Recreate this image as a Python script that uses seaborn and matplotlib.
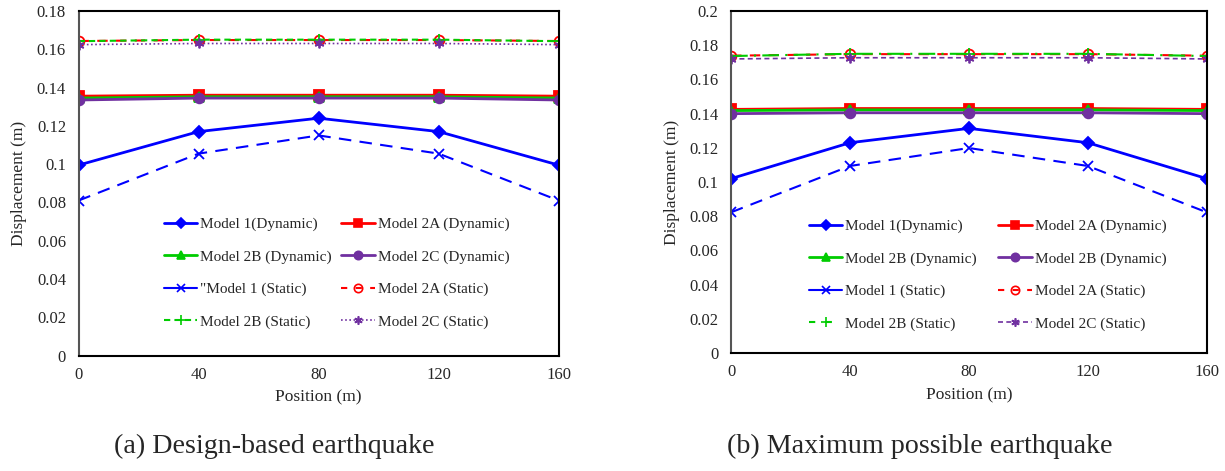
import matplotlib
matplotlib.use("Agg")
import matplotlib.pyplot as plt
import seaborn as sns
from matplotlib.lines import Line2D

positions = [0, 40, 80, 120, 160]

# (a) design-based earthquake
dbe_m1_dyn = [0.0995, 0.117, 0.124, 0.117, 0.0995]
dbe_m2a_dyn = [0.1355, 0.136, 0.136, 0.136, 0.1355]
dbe_m2b_dyn = [0.1345, 0.1352, 0.1352, 0.1352, 0.1345]
dbe_m2c_dyn = [0.1335, 0.1345, 0.1345, 0.1345, 0.1335]
dbe_m1_sta = [0.081, 0.1055, 0.115, 0.1055, 0.081]
dbe_m2a_sta = [0.1643, 0.1648, 0.1648, 0.1648, 0.1643]
dbe_m2b_sta = [0.1642, 0.1650, 0.1650, 0.1650, 0.1642]
dbe_m2c_sta = [0.1624, 0.1630, 0.1630, 0.1630, 0.1624]

# (b) maximum possible earthquake
mpe_m1_dyn = [0.102, 0.123, 0.1314, 0.123, 0.102]
mpe_m2a_dyn = [0.1425, 0.1430, 0.1430, 0.1430, 0.1425]
mpe_m2b_dyn = [0.1418, 0.1422, 0.1422, 0.1422, 0.1418]
mpe_m2c_dyn = [0.1400, 0.1405, 0.1405, 0.1405, 0.1400]
mpe_m1_sta = [0.0823, 0.1094, 0.1199, 0.1094, 0.0823]
mpe_m2a_sta = [0.1739, 0.1748, 0.1748, 0.1748, 0.1739]
mpe_m2b_sta = [0.1737, 0.1750, 0.1750, 0.1750, 0.1737]
mpe_m2c_sta = [0.1720, 0.1727, 0.1727, 0.1727, 0.1720]

labels_a = ["Model 1(Dynamic)", "Model 2A (Dynamic)", "Model 2B (Dynamic)", "Model 2C (Dynamic)",
            "\"Model 1 (Static)", "Model 2A (Static)", "Model 2B (Static)", "Model 2C (Static)"]
labels_b = ["Model 1(Dynamic)", "Model 2A (Dynamic)", "Model 2B (Dynamic)", "Model 2B (Dynamic)",
            "Model 1 (Static)", "Model 2A (Static)", "Model 2B (Static)", "Model 2C (Static)"]

BLUE, RED, GREEN, PURPLE = "#0000FF", "#FF0000", "#00CC00", "#7030A0"
AST = (6, 2, 0)

sns.set_theme(style="white")
plt.rcParams["font.family"] = ["Liberation Serif", "DejaVu Serif"]


def styles(static_ls_b, static_ls_c):
    return [
        dict(color=BLUE, marker="D", ls="-", ms=6, lw=2),
        dict(color=RED, marker="s", ls="-", ms=7, lw=2),
        dict(color=GREEN, marker="^", ls="-", ms=7, lw=2),
        dict(color=PURPLE, marker="o", ls="-", ms=7, lw=2),
        dict(color=BLUE, marker="x", ls=(0, (6, 4)), ms=7, lw=1.5),
        dict(color=RED, marker="o", ls=(0, (5, 4)), ms=7, lw=1.5, mfc="none"),
        dict(color=GREEN, marker="+", ls=static_ls_b, ms=8, lw=1.5),
        dict(color=PURPLE, marker=AST, ls=static_ls_c, ms=7, lw=1.2),
    ]


def draw(ax, series, labels, st, ymax, leg_anchor, legend_ls, colsp):
    for vals, s in zip(series, st):
        sns.lineplot(x=positions, y=vals, ax=ax, color=s["color"], marker=s["marker"],
                     linestyle=s["ls"], markersize=s["ms"], linewidth=s["lw"],
                     markerfacecolor=s.get("mfc", s["color"]),
                     markeredgecolor=s["color"], markeredgewidth=1.3)
    handles = []
    for s, lls in zip(st, legend_ls):
        handles.append(Line2D([], [], color=s["color"], marker=s["marker"], linestyle=lls,
                              markersize=s["ms"] - 1, linewidth=s["lw"],
                              markerfacecolor=s.get("mfc", s["color"]),
                              markeredgecolor=s["color"], markeredgewidth=1.2))
    # legend fills column by column; reorder so entries read row by row
    order = [0, 2, 4, 6, 1, 3, 5, 7]
    ax.legend([handles[i] for i in order], [labels[i] for i in order], ncol=2,
              frameon=False, loc="upper left", bbox_to_anchor=leg_anchor,
              fontsize=11, handlelength=2.2, handletextpad=0.2,
              labelspacing=1.22, columnspacing=colsp)
    ax.set_xlim(0, 160)
    ax.set_ylim(0, ymax)
    ax.set_xticks(positions)
    ax.set_xlabel("Position (m)", fontsize=12.5, labelpad=5)
    ax.set_ylabel("Displacement (m)", fontsize=12.5, labelpad=7)
    ax.tick_params(axis="x", direction="in", length=4, labelsize=12, pad=8)
    ax.tick_params(axis="y", direction="out", length=3, labelsize=12, pad=6)
    ax.yaxis.set_major_formatter(matplotlib.ticker.FuncFormatter(lambda v, p: f"{v:g}"))
    for sp in ax.spines.values():
        sp.set_visible(True)
        sp.set_color("black")
        sp.set_linewidth(1.5)
    ax.spines["left"].set_color("#555555")


fig = plt.figure(figsize=(12.25, 4.71), dpi=100)
ax1 = fig.add_axes([0.0641, 0.2448, 0.392, 0.732])
ax2 = fig.add_axes([0.5968, 0.2505, 0.3883, 0.726])

draw(ax1,
     [dbe_m1_dyn, dbe_m2a_dyn, dbe_m2b_dyn, dbe_m2c_dyn, dbe_m1_sta, dbe_m2a_sta, dbe_m2b_sta, dbe_m2c_sta],
     labels_a, styles((0, (3, 2)), (0, (1, 1.5))), 0.18, (0.149, 0.441),
     ["-", "-", "-", "-", "-", (0, (3, 4)), (0, (3, 2)), (0, (1, 1.5))], 0.6)
ax1.set_yticks([0, 0.02, 0.04, 0.06, 0.08, 0.1, 0.12, 0.14, 0.16, 0.18])

draw(ax2,
     [mpe_m1_dyn, mpe_m2a_dyn, mpe_m2b_dyn, mpe_m2c_dyn, mpe_m1_sta, mpe_m2a_sta, mpe_m2b_sta, mpe_m2c_sta],
     labels_b, styles((0, (8, 3, 1, 3)), (0, (3, 2))), 0.2, (0.1345, 0.431),
     ["-", "-", "-", "-", "-", (0, (3, 4)), (0, (3, 5)), (0, (3, 2))], 1.4)
ax2.set_yticks([0, 0.02, 0.04, 0.06, 0.08, 0.1, 0.12, 0.14, 0.16, 0.18, 0.2])

fig.text(0.224, 0.053, "(a) Design-based earthquake", ha="center", va="center", fontsize=20.2)
fig.text(0.751, 0.053, "(b) Maximum possible earthquake", ha="center", va="center", fontsize=20.2)

fig.savefig("out.png", dpi=100)
